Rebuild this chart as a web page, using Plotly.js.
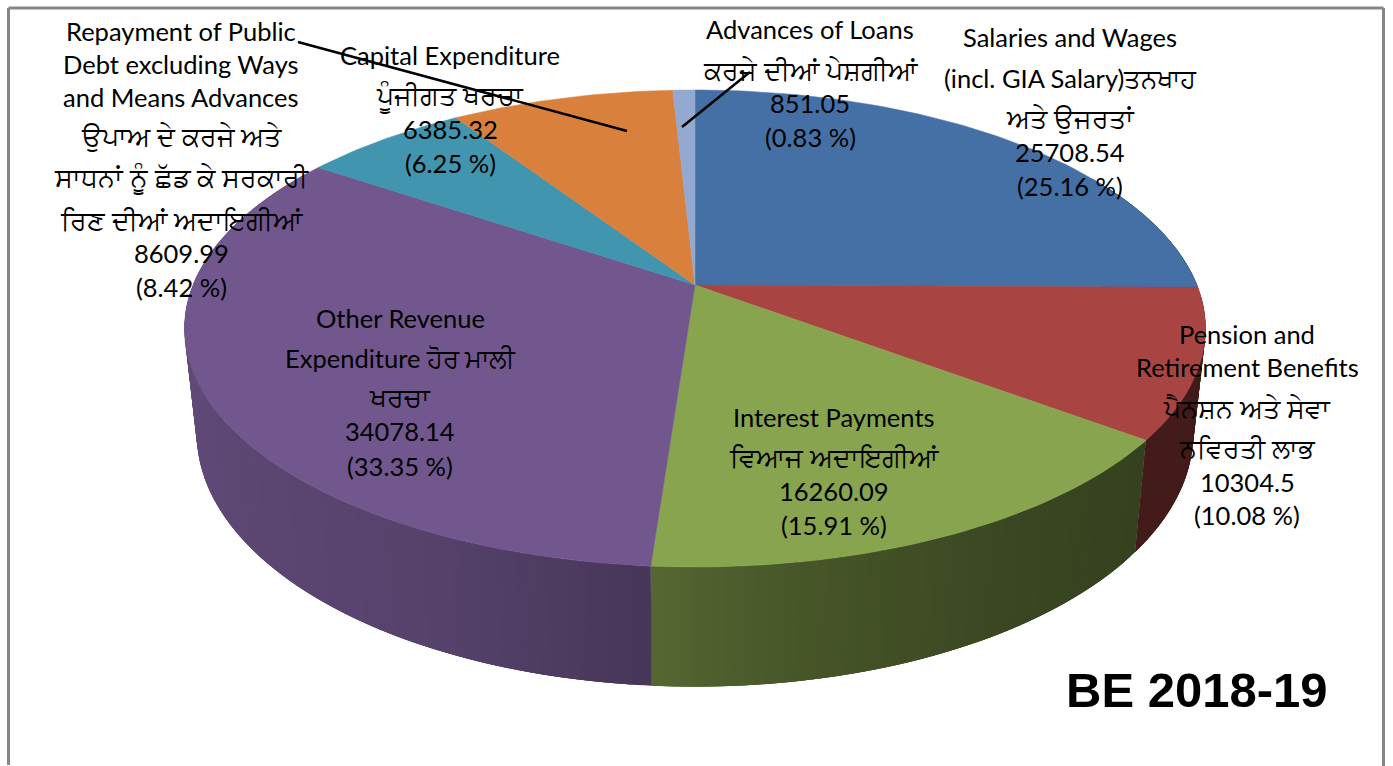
<!DOCTYPE html>
<html>
<head>
<meta charset="utf-8">
<script src="https://cdn.plot.ly/plotly-3.0.1.min.js"></script>
<style>html,body{margin:0;padding:0;background:#fff;overflow:hidden}#chart{width:1393px;height:766px}</style>
</head>
<body>
<div id="chart"></div>
<script>
// ---- data ----
const categories = ["Salaries and Wages", "Pension and Retirement Benefits", "Interest Payments",
  "Other Revenue Expenditure", "Capital Expenditure", "Repayment of Public Debt excluding Ways and Means Advances", "Advances of Loans"];
const values = [25708.54, 10304.5, 16260.09, 34078.14, 6385.32, 8609.99, 851.05];
const valueLabels = ["25708.54", "10304.5", "16260.09", "34078.14", "6385.32", "8609.99", "851.05"];
const percentLabels = ["(25.16 %)", "(10.08 %)", "(15.91 %)", "(33.35 %)", "(6.25 %)", "(8.42 %)", "(0.83 %)"];
const colors = ["#4570A6", "#A84543", "#88A44E", "#71578D", "#4195AE", "#D9813C", "#93A9CF"];
const labelLines = [
  ["Salaries and Wages", "(incl. GIA Salary)ਤਨਖਾਹ", "ਅਤੇ ਉਜਰਤਾਂ"],
  ["Pension and", "Retirement Benefits", "ਪੈਨਸ਼ਨ ਅਤੇ ਸੇਵਾ", "ਨਵਿਰਤੀ ਲਾਭ"],
  ["Interest Payments", "ਵਿਆਜ ਅਦਾਇਗੀਆਂ"],
  ["Other Revenue", "Expenditure ਹੋਰ ਮਾਲੀ", "ਖਰਚਾ"],
  ["Capital Expenditure", "ਪੂੰਜੀਗਤ ਖਰਚਾ"],
  ["Repayment of Public", "Debt excluding Ways", "and Means Advances", "ਉਪਾਅ ਦੇ ਕਰਜੇ ਅਤੇ", "ਸਾਧਨਾਂ ਨੂੰ ਛੱਡ ਕੇ ਸਰਕਾਰੀ", "ਰਿਣ ਦੀਆਂ ਅਦਾਇਗੀਆਂ"],
  ["Advances of Loans", "ਕਰਜੇ ਦੀਆਂ ਪੇਸ਼ਗੀਆਂ"]
];
const chartTitle = "BE 2018-19";

// ---- layout of labels (page positions) ----
const labelX = [1070, 1247, 834, 400, 450, 181, 810];
const labelY = [
  [37, 78, 118, 152, 186],
  [334, 367, 408, 448, 482, 515],
  [417, 457, 491, 525],
  [318, 358, 397, 431, 466],
  [55, 96, 129, 163],
  [31, 64, 97, 136, 178, 220, 253, 287],
  [29, 70, 103, 137]
];

// ---- perspective projection of the pie ----
const cx = 695, k = 0.1824;
const topFace = {cy: 285, rx: 502, ry: 230.6};
const baseFace = {cy: 387, rx: 490, ry: 245};
function project(face, theta) {
  const u = Math.sin(theta), v = Math.cos(theta), w = 1 / (1 + k * v);
  return [cx + face.rx * u * w, face.cy - face.ry * v * w];
}
function shade(hex, f) {
  const n = parseInt(hex.slice(1), 16);
  const c = [n >> 16 & 255, n >> 8 & 255, n & 255].map(a => Math.round(a * f));
  return "rgb(" + c.join(",") + ")";
}
function sideFactor(u) {
  if (u >= 0) return 0.39 + 0.2 * (1 - u) * (1 - u);
  const s = -u;
  return s < 0.42 ? 0.6 + 0.36 * s : 0.75 + 0.17 * (s - 0.42);
}

const total = values.reduce((a, b) => a + b, 0);
const step = Math.PI / 180;
const sides = [], tops = [];
let acc = 0;
values.forEach((val, i) => {
  const a0 = acc / total * 2 * Math.PI;
  acc += val;
  const a1 = acc / total * 2 * Math.PI;
  const n = Math.max(2, Math.ceil((a1 - a0) / step));
  const tx = [cx], ty = [topFace.cy];
  for (let j = 0; j <= n; j++) {
    const p = project(topFace, a0 + (a1 - a0) * j / n);
    tx.push(p[0]); ty.push(p[1]);
  }
  tx.push(cx); ty.push(topFace.cy);
  tops.push({x: tx, y: ty, mode: "lines", fill: "toself", fillcolor: colors[i],
    line: {color: colors[i], width: 0.5}, name: categories[i], hoverinfo: "name", showlegend: false});
  // side wall: each strip runs on under the next one, so no seam shows
  const m = Math.max(1, Math.ceil((a1 - a0) / step));
  for (let j = 0; j < m; j++) {
    const b0 = a0 + (a1 - a0) * j / m, bm = a0 + (a1 - a0) * (j + 1) / m;
    const b1 = a0 + (a1 - a0) * Math.min(m, j + 3) / m;
    if (Math.cos((b0 + bm) / 2) > 0.5) continue;
    const xs = [], ys = [], xb = [], yb = [];
    for (let t = 0; t <= 6; t++) {
      const b = b0 + (b1 - b0) * t / 6;
      const p = project(topFace, b), q = project(baseFace, b);
      xs.push(p[0]); ys.push(p[1]); xb.unshift(q[0]); yb.unshift(q[1]);
    }
    const col = shade(colors[i], sideFactor(Math.sin((b0 + bm) / 2)));
    sides.push({x: xs.concat(xb, [xs[0]]), y: ys.concat(yb, [ys[0]]),
      mode: "lines", fill: "toself", fillcolor: col, line: {color: col, width: 0},
      hoverinfo: "skip", showlegend: false});
  }
});

// ---- labels ----
const latinFont = {family: 'Lato, "Noto Sans", sans-serif', size: 25.5, color: "#000"};
const gurmukhiFont = {family: 'Lato, "Noto Sans", sans-serif', size: 26.5, color: "#000"};
const annotations = [];
categories.forEach((c, i) => {
  labelLines[i].concat([valueLabels[i], percentLabels[i]]).forEach((t, j) => {
    const pureGurmukhi = !/[A-Za-z0-9]/.test(t);
    annotations.push({x: labelX[i], y: labelY[i][j], xref: "x", yref: "y", text: t, showarrow: false,
      xanchor: "center", yanchor: "middle", font: pureGurmukhi ? gurmukhiFont : latinFont, borderpad: 0});
  });
});
annotations.push({x: 1197, y: 690, xref: "x", yref: "y", text: "<b>" + chartTitle + "</b>", showarrow: false,
  xanchor: "center", yanchor: "middle", font: {family: '"Liberation Sans", Arial, sans-serif', size: 49, color: "#000"}});

const frame = "#868686";
const layout = {
  width: 1393, height: 766, margin: {l: 0, r: 0, t: 0, b: 0},
  paper_bgcolor: "#fff", plot_bgcolor: "#fff", showlegend: false, hovermode: "closest",
  xaxis: {range: [0, 1393], visible: false, fixedrange: true},
  yaxis: {range: [766, 0], visible: false, fixedrange: true},
  annotations: annotations,
  shapes: [
    {type: "line", x0: 298, y0: 42, x1: 627, y1: 131, xref: "x", yref: "y", line: {color: "#000", width: 2.5}},
    {type: "line", x0: 750, y0: 72, x1: 682, y1: 127, xref: "x", yref: "y", line: {color: "#000", width: 2.5}},
    {type: "line", x0: 8.5, y0: 8, x1: 1383.5, y1: 8, xref: "x", yref: "y", line: {color: frame, width: 3}},
    {type: "line", x0: 8.5, y0: 8, x1: 8.5, y1: 765, xref: "x", yref: "y", line: {color: frame, width: 3}},
    {type: "line", x0: 1383.5, y0: 8, x1: 1383.5, y1: 766, xref: "x", yref: "y", line: {color: frame, width: 3}}
  ]
};
Plotly.newPlot("chart", sides.concat(tops), layout, {displayModeBar: false, responsive: false});
</script>
</body>
</html>
